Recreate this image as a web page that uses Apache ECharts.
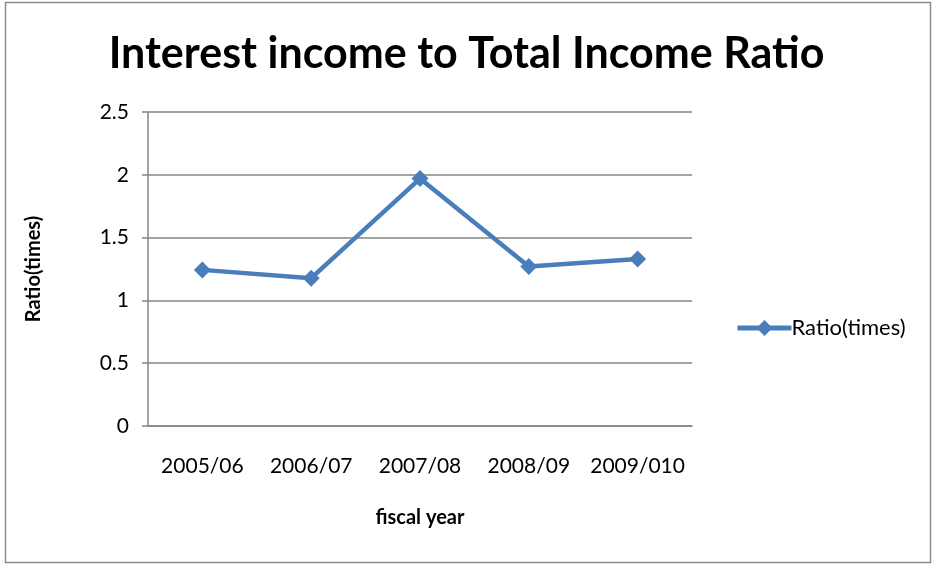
<!DOCTYPE html>
<html>
<head>
<meta charset="utf-8">
<script src="https://cdn.jsdelivr.net/npm/echarts@6/dist/echarts.min.js"></script>
<style>html,body{margin:0;padding:0;background:#fff}#c{width:933px;height:565px}</style>
</head>
<body>
<div id="c"></div>
<script>
var categories = ['2005/06', '2006/07', '2007/08', '2008/09', '2009/010'];
var ratioValues = [1.243, 1.177, 1.97, 1.27, 1.329];
var yTicks = [0, 0.5, 1, 1.5, 2, 2.5];
var seriesName = 'Ratio(times)';
var titleText = 'Interest income to Total Income Ratio';
var xName = 'fiscal year';
var yName = 'Ratio(times)';

var font = 'Lato, "Open Sans", sans-serif';
var chart = echarts.init(document.getElementById('c'));
chart.setOption({
  animation: false,
  backgroundColor: '#fff',
  graphic: [{
    type: 'rect', shape: {x: 5.5, y: 2.5, width: 925, height: 560},
    style: {fill: 'none', stroke: '#8c8c8c', lineWidth: 1.5}, silent: true
  }],
  title: {
    text: titleText, left: 'center', top: 28,
    textStyle: {fontFamily: font, fontWeight: 'bold', fontSize: 43, color: '#000'}
  },
  legend: {
    data: [seriesName], left: 730, top: 312, orient: 'vertical',
    itemWidth: 54, itemHeight: 20, itemGap: 4,
    lineStyle: {width: 5},
    textStyle: {fontFamily: font, fontSize: 22, color: '#000', padding: [0,0,0,-5]}
  },
  grid: {left: 148, right: 241, top: 112, bottom: 139},
  xAxis: {
    type: 'category', data: categories, boundaryGap: true,
    name: xName, nameLocation: 'middle', nameGap: 82,
    nameTextStyle: {fontFamily: font, fontWeight: 'bold', fontSize: 20, color: '#000'},
    axisLine: {lineStyle: {color: '#868686', width: 1.5}},
    axisTick: {show: false},
    axisLabel: {fontFamily: font, fontSize: 21, color: '#000', margin: 30, interval: 0, hideOverlap: false}
  },
  yAxis: {
    type: 'value', min: yTicks[0], max: yTicks[yTicks.length - 1], interval: 0.5,
    name: yName, nameLocation: 'middle', nameGap: 104, nameRotate: 90,
    nameTextStyle: {fontFamily: font, fontWeight: 'bold', fontSize: 20, color: '#000'},
    axisLine: {show: true, lineStyle: {color: '#868686', width: 1.5}},
    axisTick: {show: true, length: 6, lineStyle: {color: '#868686', width: 1.5}},
    splitLine: {lineStyle: {color: '#868686', width: 1.5}},
    axisLabel: {fontFamily: font, fontSize: 21, color: '#000', margin: 19}
  },
  series: [{
    name: seriesName, type: 'line', data: ratioValues,
    symbol: 'diamond', symbolSize: 17,
    lineStyle: {color: '#4a7ebb', width: 4.5},
    itemStyle: {color: '#4a7ebb'}
  }]
});
</script>
</body>
</html>
